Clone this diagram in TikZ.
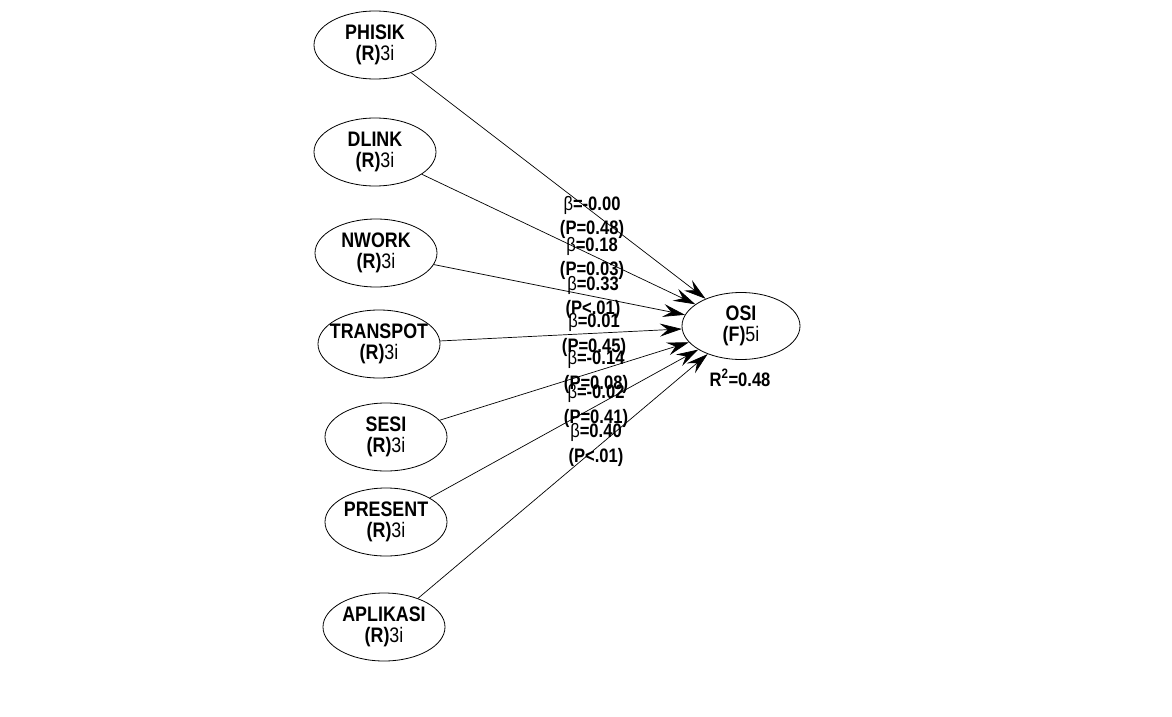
\documentclass[tikz,border=0pt]{standalone}
\usepackage{fontspec}
\setmainfont{Liberation Sans}
\newfontfamily\narrowfont[FakeStretch=0.85]{Liberation Sans}
\usetikzlibrary{arrows.meta, shapes.geometric}

\begin{document}
\begin{tikzpicture}[
    x=1pt,
    y=-1pt,
    construct/.style={
        ellipse,
        draw,
        line width=0.8pt,
        minimum width=122pt,
        minimum height=68pt,
        inner xsep=-20pt,
        inner ysep=0pt,
        align=center,
        font=\narrowfont\fontsize{21}{21}\selectfont\bfseries,
    },
    link/.style={
        line width=0.7pt,
        -{Stealth[length=22pt, width=13pt, inset=8pt]},
    },
    coef/.style={
        align=center,
        inner sep=0pt,
        font=\narrowfont\fontsize{19.5}{24.5}\selectfont\bfseries,
    }
]
    \useasboundingbox (0,0) rectangle (1172,717);

    % Constructs
    \node[construct] (phisik) at (375,45) {PHISIK\\(R){\mdseries 3i}};
    \node[construct] (dlink) at (375,152) {DLINK\\(R){\mdseries 3i}};
    \node[construct] (nwork) at (376,253) {NWORK\\(R){\mdseries 3i}};
    \node[construct] (transpot) at (379,344) {TRANSPOT\\(R){\mdseries 3i}};
    \node[construct] (sesi) at (386,437) {SESI\\(R){\mdseries 3i}};
    \node[construct] (present) at (386,522) {PRESENT\\(R){\mdseries 3i}};
    \node[construct] (aplikasi) at (384,627) {APLIKASI\\(R){\mdseries 3i}};
    \node[construct, minimum width=118pt, minimum height=67pt] (osi) at (741,326) {OSI\\(F){\mdseries 5i}};

    % Paths
    \draw[link] (phisik) -- (osi);
    \draw[link] (dlink) -- (osi);
    \draw[link] (nwork) -- (osi);
    \draw[link] (transpot) -- (osi);
    \draw[link] (sesi) -- (osi);
    \draw[link] (present) -- (osi);
    \draw[link] (aplikasi) -- (osi);

    % Coefficients
    \node[coef] (cphisik) at (592,217.5) {{\mdseries β}=-0.00\\(P=0.48)};
    \node[coef] (cdlink) at (592,258.5) {{\mdseries β}=0.18\\(P=0.03)};
    \node[coef] (cnwork) at (593,297.5) {{\mdseries β}=0.33\\(P<.01)};
    \node[coef] (ctranspot) at (594,335) {{\mdseries β}=0.01\\(P=0.45)};
    \node[coef] (csesi) at (596,372) {{\mdseries β}=-0.14\\(P=0.08)};
    \node[coef] (cpresent) at (596,406) {{\mdseries β}=-0.02\\(P=0.41)};
    \node[coef] (caplikasi) at (596,445) {{\mdseries β}=0.40\\(P<.01)};

    \node[coef] (rsq) at (740,378) {R\textsuperscript{2}=0.48};
\end{tikzpicture}
\end{document}
